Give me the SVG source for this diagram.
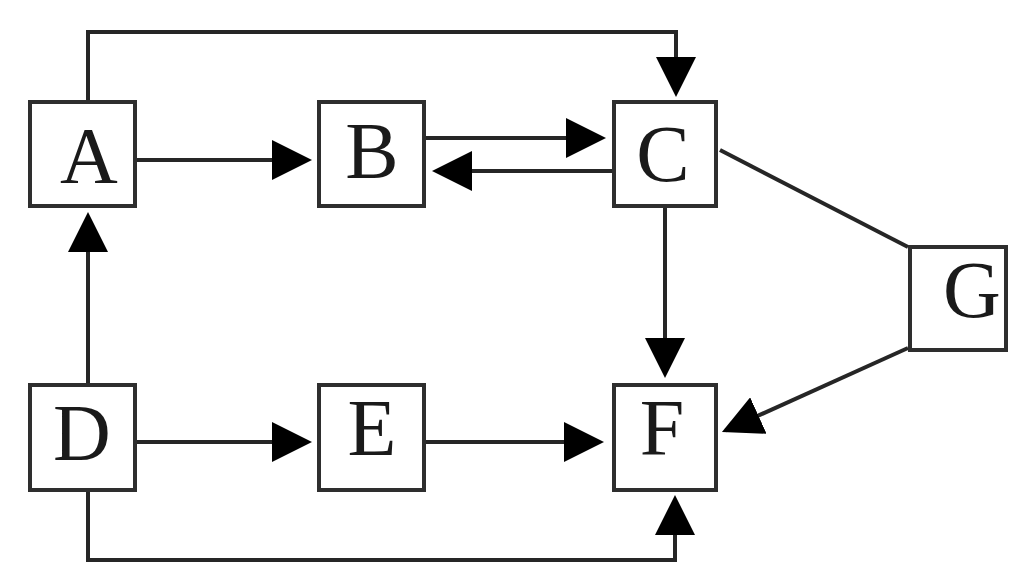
<svg xmlns="http://www.w3.org/2000/svg" width="1009" height="562" viewBox="0 0 1009 562">
<style>
.box{fill:#ffffff;stroke:#2e2e2e;stroke-width:4}
.lbl{font-family:"Liberation Serif","Times New Roman",serif;font-size:80px;fill:#1a1a1a;text-anchor:middle}
.ln{fill:none;stroke:#262626;stroke-width:4}
.arr{marker-end:url(#ah)}
</style>
<defs>
<marker id="ah" markerUnits="userSpaceOnUse" markerWidth="40" markerHeight="40" refX="36" refY="20" orient="auto">
<path d="M0,0 L40,20 L0,40 z" fill="#000"/>
</marker>
</defs>
<rect width="1009" height="562" fill="#ffffff"/>
<g id="connectors">
<path class="ln arr" d="M88,100 V32 H676 V93"/>
<path class="ln arr" d="M137,160 H308"/>
<path class="ln arr" d="M426,138 H602"/>
<path class="ln arr" d="M612,171 H436"/>
<path class="ln arr" d="M665,208 V374"/>
<path class="ln arr" d="M88,383 V216"/>
<path class="ln arr" d="M137,442 H308"/>
<path class="ln arr" d="M426,442 H600"/>
<path class="ln arr" d="M88,492 V560 H675 V499"/>
<path class="ln" d="M720,150 L908,247"/>
<path class="ln arr" d="M908,348 L725.6,430.4"/>
</g>
<g id="node-A"><rect class="box" x="30" y="102" width="105" height="104"/><text class="lbl" x="89" y="183">A</text></g>
<g id="node-B"><rect class="box" x="319" y="102" width="105" height="104"/><text class="lbl" x="372" y="178">B</text></g>
<g id="node-C"><rect class="box" x="614" y="102" width="102" height="104"/><text class="lbl" x="663" y="181">C</text></g>
<g id="node-D"><rect class="box" x="30" y="385" width="105" height="105"/><text class="lbl" x="82" y="460">D</text></g>
<g id="node-E"><rect class="box" x="319" y="385" width="105" height="105"/><text class="lbl" x="372" y="455">E</text></g>
<g id="node-F"><rect class="box" x="614" y="385" width="102" height="105"/><text class="lbl" x="662" y="455">F</text></g>
<g id="node-G"><rect class="box" x="910" y="247" width="96" height="103"/><text class="lbl" x="972" y="317">G</text></g>
</svg>
